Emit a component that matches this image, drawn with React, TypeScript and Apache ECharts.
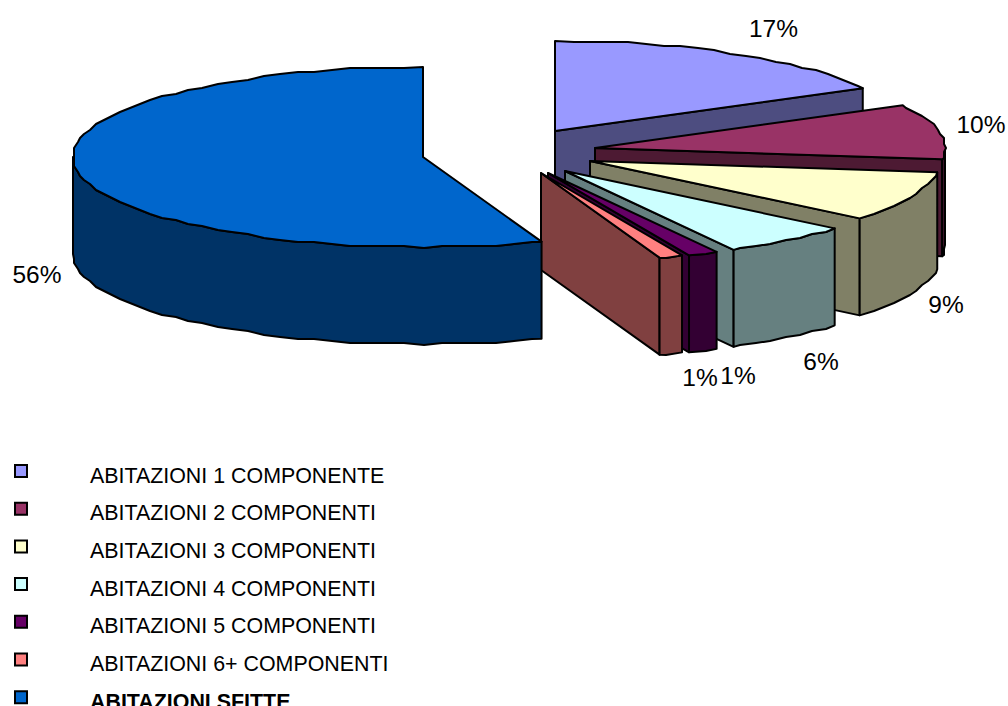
import React, { useEffect, useRef } from "react";
import * as echarts from "echarts";

const categories = [
  "ABITAZIONI 1 COMPONENTE",
  "ABITAZIONI 2 COMPONENTI",
  "ABITAZIONI 3 COMPONENTI",
  "ABITAZIONI 4 COMPONENTI",
  "ABITAZIONI 5 COMPONENTI",
  "ABITAZIONI 6+ COMPONENTI",
  "ABITAZIONI SFITTE",
];
const shares = [17.1, 9.9, 9.0, 6.0, 1.4, 1.1, 55.5];
const topColors = ["#9999FF", "#993366", "#FFFFCC", "#CCFFFF", "#660066", "#FF8080", "#0066CC"];
const sideColors = ["#4D4D80", "#4D1A33", "#808066", "#668080", "#330033", "#804040", "#003366"];

// Layout of the exploded 3D pie
const apexes = [[555, 131], [595, 148], [590, 161], [565, 171], [548, 173], [541, 173], [423, 157]];
const labelCentres = [[773.5, 28], [981, 124], [946, 304], [821, 361], [738, 375], [700, 377], [37, 274]];
const RX = 350;
const RY = 90;
const DEPTH = 97;
const GRID = 2;
const STEP = 3;

const total = shares.reduce((a, b) => a + b, 0);

function rimPoint(apex: number[], deg: number): [number, number] {
  const t = (deg * Math.PI) / 180;
  return [apex[0] + RX * Math.sin(t), apex[1] - RY * Math.cos(t)];
}
function arcPoints(apex: number[], from: number, to: number): [number, number][] {
  const pts: [number, number][] = [rimPoint(apex, from)];
  for (let d = Math.ceil(from / STEP + 0.3) * STEP; d < to - STEP * 0.3; d += STEP) {
    const p = rimPoint(apex, d);
    pts.push([Math.round(p[0] / GRID) * GRID, Math.round(p[1] / GRID) * GRID]);
  }
  pts.push(rimPoint(apex, to));
  return pts;
}
const down = (p: number[]): [number, number] => [p[0], p[1] + DEPTH];

const edge = { stroke: "#000", lineWidth: 2, lineJoin: "round" as const };

function renderSlice(params: any, api: any) {
  const i = params.seriesIndex;
  const value = api.value(0);
  const before = shares.slice(0, i).reduce((a, b) => a + b, 0);
  const start = (before / total) * 360;
  const end = start + (value / total) * 360;
  const apex = apexes[i];
  const children: any[] = [];

  if (end < 359.9) {
    const e = rimPoint(apex, end);
    children.push({
      type: "polygon",
      shape: { points: [apex, e, down(e), down(apex)] },
      style: { fill: sideColors[i], ...edge },
    });
  }
  const from = Math.max(start, 90);
  const to = Math.min(end, 270);
  if (to > from) {
    const arc = arcPoints(apex, from, to);
    children.push({
      type: "polygon",
      shape: { points: [...arc, ...arc.slice().reverse().map(down)] },
      style: { fill: sideColors[i], ...edge },
    });
  }
  children.push({
    type: "polygon",
    shape: { points: [apex, ...arcPoints(apex, start, end)] },
    style: { fill: topColors[i], ...edge },
  });
  children.push({
    type: "text",
    style: {
      text: `${Math.round(value)}%`,
      x: labelCentres[i][0],
      y: labelCentres[i][1],
      align: "center",
      verticalAlign: "middle",
      fill: "#000",
      font: "24.5px 'Liberation Sans'",
    },
  });
  return { type: "group", children };
}

const legendFont = { fontFamily: "Liberation Sans", fontSize: 21.4, color: "#000", lineHeight: 24 };

export default function App() {
  const ref = useRef<HTMLDivElement>(null);
  useEffect(() => {
    document.body.style.margin = "0";
    const chart = echarts.init(ref.current!, undefined, { renderer: "svg" });
    chart.setOption({
      animation: false,
      backgroundColor: "#fff",
      legend: {
        orient: "vertical",
        left: 14,
        top: 454.5,
        height: 400,
        padding: 0,
        itemWidth: 12,
        itemHeight: 12,
        itemGap: 4.7,
        selectedMode: false,
        icon: "rect",
        itemStyle: { borderColor: "#000", borderWidth: 2 },
        formatter: (name: string) =>
          `{s| }\n{${name === categories[categories.length - 1] ? "b" : "a"}|${name}}`,
        textStyle: {
          ...legendFont,
          padding: [0, 0, 0, 58],
          rich: {
            s: { fontSize: 4, lineHeight: 9 },
            a: { ...legendFont },
            b: { ...legendFont, fontWeight: "bold" },
          },
        },
        data: categories,
      },
      series: categories.map((name, i) => ({
        type: "custom",
        name,
        coordinateSystem: "none",
        silent: true,
        itemStyle: { color: topColors[i] },
        data: [[shares[i]]],
        renderItem: renderSlice,
      })),
    });
    return () => chart.dispose();
  }, []);
  return <div ref={ref} style={{ width: 1008, height: 706, overflow: "hidden" }} />;
}
